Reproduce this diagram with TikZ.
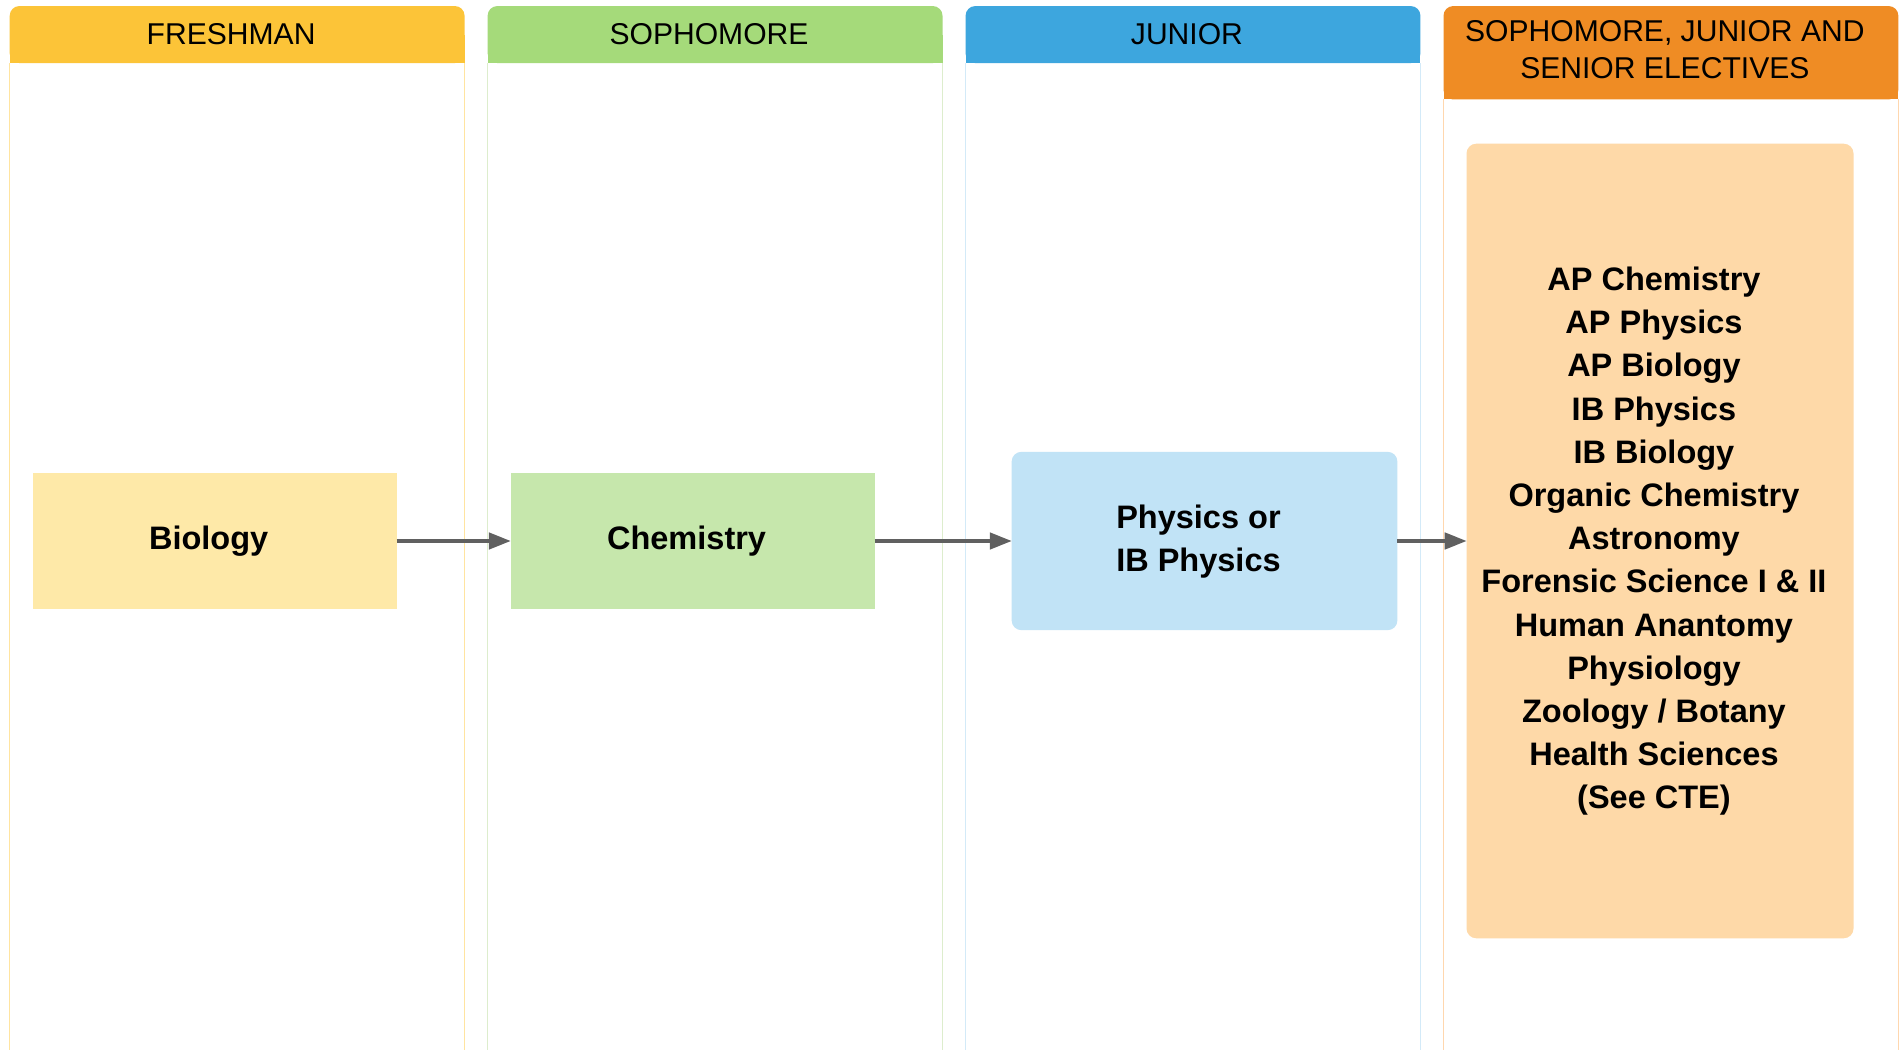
\documentclass[tikz,border=0pt]{standalone}
\usepackage{fontspec}
\setmainfont{Liberation Sans}
\usepackage{tikz}
\usetikzlibrary{positioning}
\usetikzlibrary{arrows,arrows.meta}
\usetikzlibrary{backgrounds}
\definecolor{freshHead}{HTML}{FCC438}
\definecolor{sophHead}{HTML}{A5DA7A}
\definecolor{junHead}{HTML}{3DA6DE}
\definecolor{elecHead}{HTML}{EF8C24}
\definecolor{freshLine}{HTML}{FFE4A0}
\definecolor{sophLine}{HTML}{DDEDCD}
\definecolor{junLine}{HTML}{D3EAF8}
\definecolor{elecLine}{HTML}{FFD7AE}
\definecolor{bioFill}{HTML}{FEE9A8}
\definecolor{chemFill}{HTML}{C6E7AC}
\definecolor{physFill}{HTML}{C1E3F6}
\definecolor{elecFill}{HTML}{FED9A8}
\definecolor{arrowGray}{HTML}{606060}
\tikzstyle{head} = [rectangle, rounded corners=4pt, minimum width=187.5pt, inner sep=0pt, outer sep=0pt,
	execute at begin node={\hspace*{-5pt}}, font=\fontsize{12.4}{15}\selectfont]
\tikzstyle{course} = [rectangle, minimum width=150pt, minimum height=56pt, inner sep=0pt, outer sep=0pt,
	execute at begin node={\hspace*{-5pt}}, font=\fontsize{13.4}{17.8}\selectfont\bfseries]
\tikzstyle{colline} = [line width=0.6pt]
\tikzstyle{flow} = [line width=1.25pt, draw=arrowGray, ->]
\tikzstyle{coord} = [coordinate]

\begin{document}
\begin{tikzpicture}[x=1pt, y=-1pt, >={Triangle[length=9pt,width=6.8pt]}]
	\useasboundingbox (0,0) rectangle (784,432.5);
	\coordinate (bottom) at (0,440);

	% column headers
	\node [head, fill=freshHead, minimum height=23.5pt] (hFresh) at (97.75,14.25) {FRESHMAN};
	\node [head, fill=sophHead, minimum height=23.5pt] (hSoph) at (294.75,14.25) {SOPHOMORE};
	\node [head, fill=junHead, minimum height=23.5pt] (hJun) at (491.75,14.25) {JUNIOR};
	\node [head, fill=elecHead, minimum height=38.5pt] (hElec) at (688.75,21.75)
		{\begin{tabular}{@{}c@{}}SOPHOMORE, JUNIOR AND\\SENIOR ELECTIVES\end{tabular}};

	\begin{scope}[on background layer]
		\fill [white] (0,0) rectangle (784,432.5);
		\fill [freshHead] (hFresh.west) rectangle (hFresh.south east);
		\fill [sophHead] (hSoph.west) rectangle (hSoph.south east);
		\fill [junHead] (hJun.west) rectangle (hJun.south east);
		\fill [elecHead] (hElec.west) rectangle (hElec.south east);
	\end{scope}

	% column borders
	\draw [colline, freshLine] (hFresh.south west) -- (hFresh.south west |- bottom);
	\draw [colline, freshLine] (hFresh.south east) -- (hFresh.south east |- bottom);
	\draw [colline, sophLine] (hSoph.south west) -- (hSoph.south west |- bottom);
	\draw [colline, sophLine] (hSoph.south east) -- (hSoph.south east |- bottom);
	\draw [colline, junLine] (hJun.south west) -- (hJun.south west |- bottom);
	\draw [colline, junLine] (hJun.south east) -- (hJun.south east |- bottom);
	\draw [colline, elecLine] (hElec.south west) -- (hElec.south west |- bottom);
	\draw [colline, elecLine] (hElec.south east) -- (hElec.south east |- bottom);

	% courses
	\node [course, fill=bioFill] (biology) at (88.5,223) {Biology};
	\node [course, fill=chemFill, node distance=47pt, right=of biology] (chemistry) {Chemistry};
	\node [course, fill=physFill, rounded corners=4pt, minimum width=159pt, minimum height=73.5pt,
		node distance=56.5pt, right=of chemistry] (physics)
		{\begin{tabular}{@{}c@{}}Physics or\\IB Physics\end{tabular}};
	\node [course, fill=elecFill, rounded corners=4pt, minimum width=159.5pt, minimum height=327.5pt,
		node distance=28.5pt, right=of physics] (electives)
		{\begin{tabular}{@{}c@{}}AP Chemistry\\AP Physics\\AP Biology\\IB Physics\\IB Biology\\
		Organic Chemistry\\Astronomy\\Forensic Science I \& II\\Human Anantomy\\Physiology\\
		Zoology / Botany\\Health Sciences\\(See CTE)\end{tabular}};

	\draw [flow] (biology) -- (chemistry);
	\draw [flow] (chemistry) -- (physics);
	\draw [flow] (physics) -- (electives);
\end{tikzpicture}
\end{document}
